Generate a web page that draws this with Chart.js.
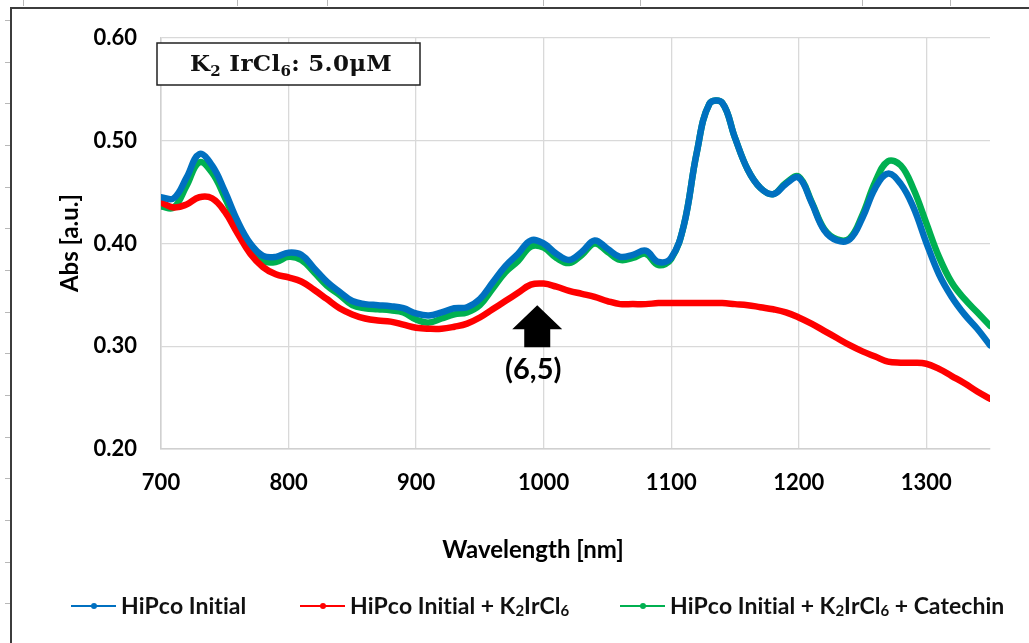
<!DOCTYPE html>
<html>
<head>
<meta charset="utf-8">
<script src="https://cdn.jsdelivr.net/npm/chart.js@4.4.0/dist/chart.umd.min.js"></script>
<style>
html, body { margin: 0; padding: 0; background: #fff; }
</style>
</head>
<body>
<canvas id="abs-chart" width="1029" height="643"></canvas>
<script>
// wavelength grid (nm)
var wavelength = [700,710,720,730,740,750,760,770,780,790,800,810,820,830,840,850,860,870,880,890,
  900,910,920,930,940,950,960,970,980,990,1000,1010,1020,1030,1040,1050,1060,1070,1080,1090,
  1100,1110,1120,1130,1140,1150,1160,1170,1180,1190,1200,1210,1220,1230,1240,1250,1260,1270,1280,1290,
  1300,1310,1320,1330,1340,1350];

var absInitial = [0.445,0.444,0.464,0.487,0.476,0.451,0.422,0.400,0.388,0.387,0.391,0.389,0.376,0.363,0.353,0.344,0.341,0.340,0.339,0.337,
  0.332,0.330,0.333,0.337,0.338,0.346,0.362,0.378,0.390,0.403,0.400,0.390,0.384,0.392,0.403,0.395,0.387,0.389,0.393,0.382,
  0.386,0.418,0.488,0.536,0.537,0.503,0.472,0.454,0.448,0.458,0.464,0.440,0.413,0.403,0.404,0.425,0.454,0.468,0.458,0.435,
  0.401,0.370,0.348,0.331,0.317,0.301];

var absIrCl6 = [0.440,0.435,0.438,0.445,0.444,0.431,0.410,0.390,0.377,0.370,0.367,0.363,0.355,0.346,0.337,0.331,0.327,0.325,0.324,0.321,
  0.318,0.317,0.317,0.319,0.322,0.328,0.336,0.344,0.352,0.360,0.361,0.358,0.354,0.351,0.348,0.344,0.341,0.341,0.341,0.342,
  0.342,0.342,0.342,0.342,0.342,0.341,0.340,0.338,0.336,0.333,0.328,0.322,0.315,0.308,0.301,0.295,0.290,0.285,0.284,0.284,
  0.283,0.278,0.271,0.264,0.256,0.249];

var absCatechin = [0.436,0.435,0.456,0.479,0.469,0.445,0.418,0.396,0.383,0.382,0.387,0.384,0.372,0.359,0.350,0.340,0.337,0.336,0.335,0.333,
  0.326,0.323,0.327,0.331,0.333,0.340,0.356,0.372,0.383,0.397,0.396,0.386,0.381,0.389,0.400,0.392,0.384,0.386,0.390,0.379,
  0.385,0.418,0.488,0.536,0.537,0.503,0.472,0.454,0.448,0.459,0.465,0.441,0.414,0.404,0.405,0.428,0.460,0.480,0.476,0.453,
  0.420,0.387,0.362,0.346,0.333,0.320];

var xTicks = [700,800,900,1000,1100,1200,1300];
var yTicks = [0.20,0.30,0.40,0.50,0.60];
var seriesNames = ['HiPco Initial', 'HiPco Initial + K\u2082IrCl\u2086', 'HiPco Initial + K\u2082IrCl\u2086 + Catechin'];
var seriesColors = ['#0070C0', '#FF0000', '#00B050'];
var boxLabel = 'K\u2082 IrCl\u2086: 5.0\u03bcM';
var arrowLabel = '(6,5)';
var arrowAt = {x: 995, y: 0.340};

var FONT = 'Lato, "Open Sans", sans-serif';
var SUBS = '\u2080\u2081\u2082\u2083\u2084\u2085\u2086\u2087\u2088\u2089';

function toPoints(ys){
    return wavelength.map(function(w, i){ return {x: w, y: ys[i]}; });
}

// draws text where the unicode subscript digits are drawn as real subscripts
function drawRich(ctx, text, x, y, size, weight, family, gap){
    var cx = x;
    gap = gap || 0;
    for (var i = 0; i < text.length; i++){
        var ch = text[i];
        var k = SUBS.indexOf(ch);
        if (k >= 0){
            ctx.font = weight + ' ' + Math.round(size*0.65) + 'px ' + family;
            ctx.fillText(String(k), cx, y + size*0.2);
            cx += ctx.measureText(String(k)).width + gap;
        } else {
            ctx.font = weight + ' ' + size + 'px ' + family;
            ctx.fillText(ch, cx, y);
            cx += ctx.measureText(ch).width + gap;
        }
    }
    return cx;
}

var extras = {
    id: 'extras',
    afterDraw: function(chart){
        var ctx = chart.ctx;
        var area = chart.chartArea;
        var xs = chart.scales.x, ys = chart.scales.y;
        ctx.save();

        // sheet frame
        ctx.strokeStyle = '#3c3c3c';
        ctx.lineWidth = 2;
        ctx.beginPath();
        ctx.moveTo(11, 643); ctx.lineTo(11, 8); ctx.lineTo(1029, 8);
        ctx.stroke();
        ctx.strokeStyle = '#b8b8b8';
        ctx.lineWidth = 1;
        for (var ty = 20; ty < 643; ty += 41.67){
            ctx.beginPath(); ctx.moveTo(5, Math.round(ty)+0.5); ctx.lineTo(10, Math.round(ty)+0.5); ctx.stroke();
        }
        [23, 237, 327, 543, 640, 862, 950].forEach(function(tx){
            ctx.beginPath(); ctx.moveTo(tx+0.5, 0); ctx.lineTo(tx+0.5, 6); ctx.stroke();
        });

        // concentration box
        ctx.fillStyle = '#fff';
        ctx.fillRect(area.left - 4, area.top + 5, 263, 42);
        ctx.strokeStyle = '#222';
        ctx.lineWidth = 1.5;
        ctx.strokeRect(area.left - 4, area.top + 5, 263, 42);
        ctx.fillStyle = '#111';
        ctx.textBaseline = 'alphabetic';
        ctx.textAlign = 'left';
        drawRich(ctx, boxLabel, area.left + 29, area.top + 33, 23, 'bold', '"DejaVu Serif", serif', 0.3);

        // arrow marking the (6,5) band
        var ax = xs.getPixelForValue(arrowAt.x);
        var ay = ys.getPixelForValue(arrowAt.y);
        ctx.fillStyle = '#000';
        ctx.beginPath();
        ctx.moveTo(ax, ay);
        ctx.lineTo(ax + 25, ay + 24);
        ctx.lineTo(ax + 13, ay + 24);
        ctx.lineTo(ax + 13, ay + 42);
        ctx.lineTo(ax - 13, ay + 42);
        ctx.lineTo(ax - 13, ay + 24);
        ctx.lineTo(ax - 25, ay + 24);
        ctx.closePath();
        ctx.fill();
        ctx.font = 'bold 29px ' + FONT;
        ctx.textAlign = 'center';
        ctx.textBaseline = 'middle';
        ctx.fillText(arrowLabel, ax - 4, ay + 64);

        // axis titles
        ctx.font = 'bold 24px ' + FONT;
        ctx.fillText('Wavelength [nm]', 533, 550);
        ctx.save();
        ctx.translate(70, 243);
        ctx.rotate(-Math.PI/2);
        ctx.fillText('Abs [a.u.]', 0, 0);
        ctx.restore();

        // legend (Excel style: line with dot)
        var legendX = [71, 300, 620];
        var ly = 606;
        ctx.textAlign = 'left';
        ctx.textBaseline = 'middle';
        chart.data.datasets.forEach(function(ds, i){
            var lx = legendX[i];
            ctx.strokeStyle = ds.borderColor;
            ctx.lineWidth = 2;
            ctx.beginPath(); ctx.moveTo(lx, ly); ctx.lineTo(lx + 45, ly); ctx.stroke();
            ctx.fillStyle = ds.borderColor;
            ctx.beginPath(); ctx.arc(lx + 23, ly, 3, 0, Math.PI*2); ctx.fill();
            ctx.fillStyle = '#111';
            drawRich(ctx, ds.label, lx + 50, ly + 1, 23, 'bold', FONT, 0);
        });
        ctx.restore();
    }
};

var ctx = document.getElementById('abs-chart').getContext('2d');
var absChart = new Chart(ctx, {
    type: 'line',
    data: {
        datasets: [
            {label: seriesNames[0], data: toPoints(absInitial), borderColor: seriesColors[0]},
            {label: seriesNames[1], data: toPoints(absIrCl6), borderColor: seriesColors[1]},
            {label: seriesNames[2], data: toPoints(absCatechin), borderColor: seriesColors[2]}
        ]
    },
    options: {
        responsive: false,
        animation: false,
        layout: {padding: {left: 0, top: 38, right: 39, bottom: 0}},
        elements: {
            line: {borderWidth: 6.5, tension: 0.4, borderCapStyle: 'round', borderJoinStyle: 'round'},
            point: {radius: 0}
        },
        plugins: {legend: {display: false}, tooltip: {enabled: false}},
        scales: {
            x: {
                type: 'linear',
                min: 700,
                max: 1350,
                afterFit: function(scale){ scale.height = 194; },
                afterBuildTicks: function(scale){ scale.ticks = xTicks.map(function(v){ return {value: v}; }); },
                grid: {color: '#d9d9d9', lineWidth: 1.3, drawTicks: false},
                border: {color: '#d0d0d0', width: 1.5},
                ticks: {padding: 21, color: '#000', font: {family: FONT, size: 22, weight: 'bold'}, maxRotation: 0,
                        callback: function(v){ return String(v); }}
            },
            y: {
                min: 0.20,
                max: 0.60,
                afterFit: function(scale){ scale.width = 161; },
                afterBuildTicks: function(scale){ scale.ticks = yTicks.map(function(v){ return {value: v}; }); },
                grid: {color: '#d9d9d9', lineWidth: 1.3, drawTicks: false},
                border: {color: '#d0d0d0', width: 1.5},
                ticks: {padding: 24, color: '#000', font: {family: FONT, size: 22, weight: 'bold'},
                        callback: function(v){ return v.toFixed(2); }}
            }
        }
    },
    plugins: [extras]
});
</script>
</body>
</html>
